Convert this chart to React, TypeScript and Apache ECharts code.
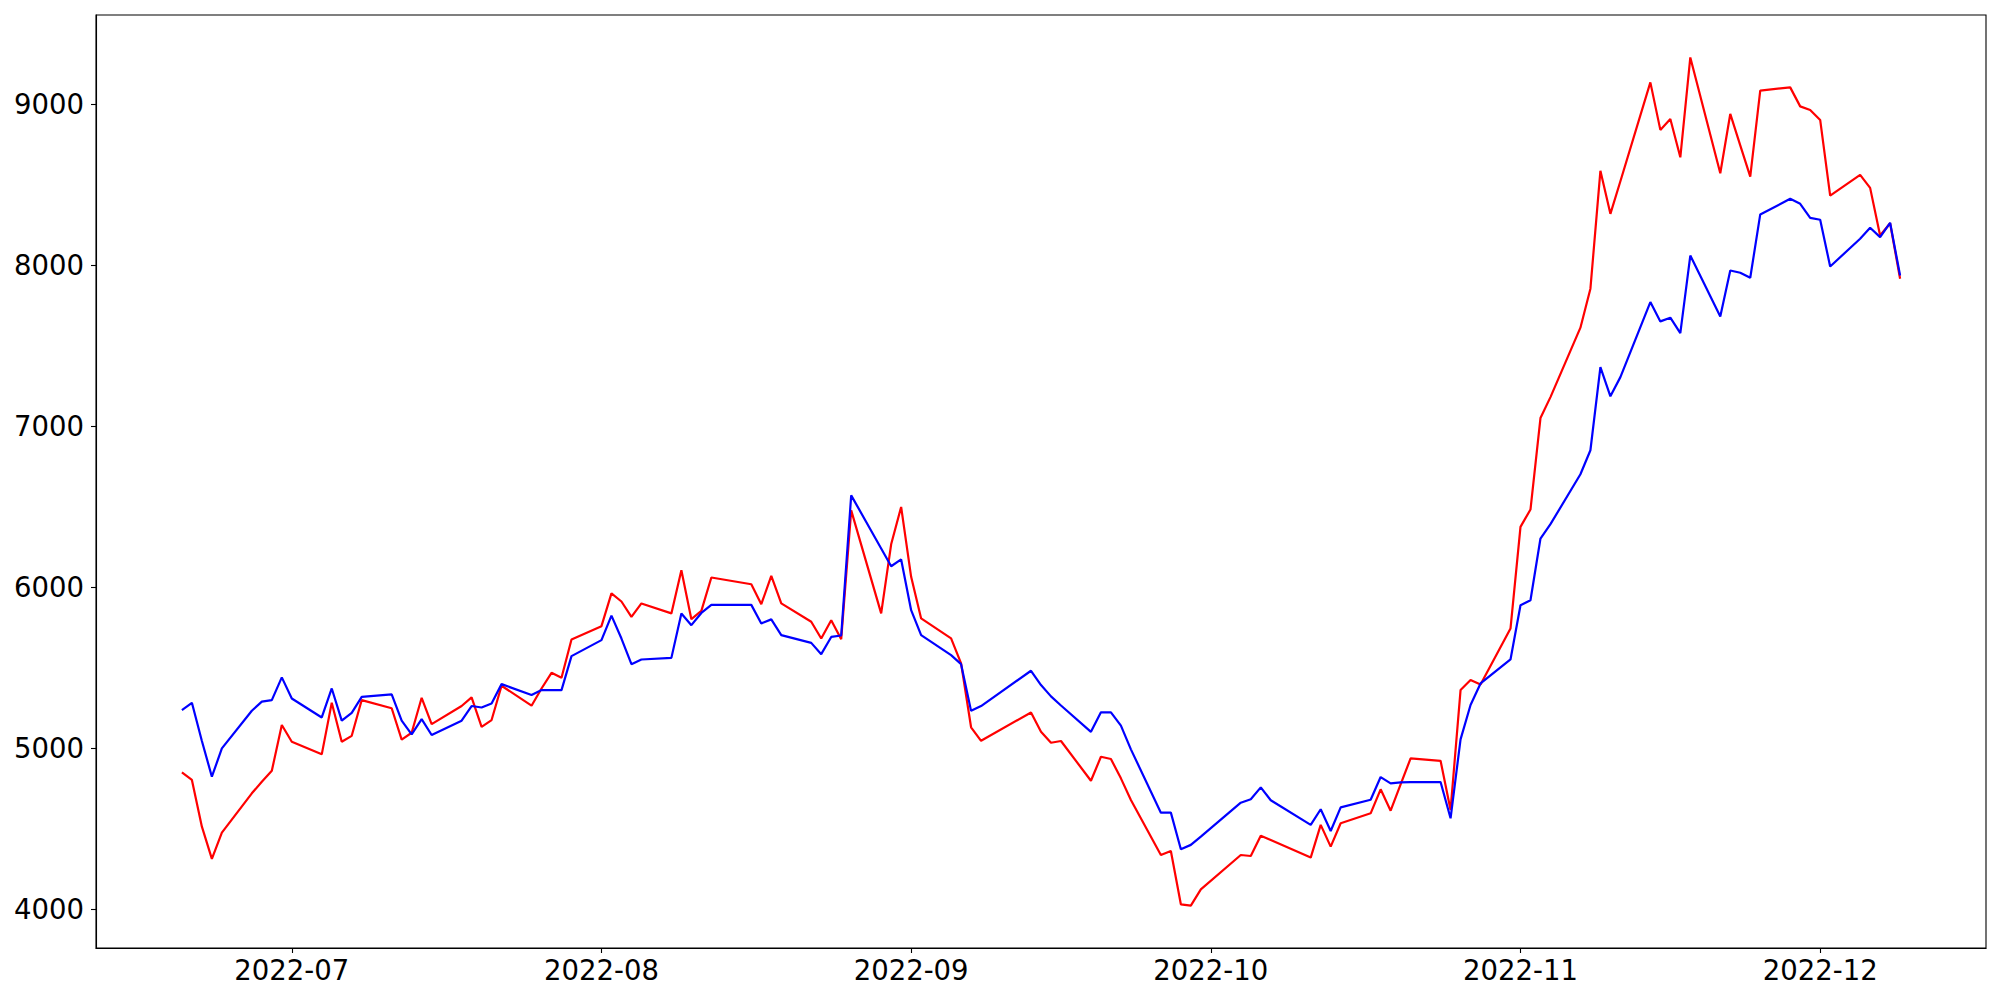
import React, { useEffect, useRef } from "react";
import * as echarts from "echarts";

const dates = [
  "2022-06-20", "2022-06-21", "2022-06-22", "2022-06-23", "2022-06-24",
  "2022-06-27", "2022-06-28", "2022-06-29", "2022-06-30", "2022-07-01",
  "2022-07-04", "2022-07-05", "2022-07-06", "2022-07-07", "2022-07-08",
  "2022-07-11", "2022-07-12", "2022-07-13", "2022-07-14", "2022-07-15",
  "2022-07-18", "2022-07-19", "2022-07-20", "2022-07-21", "2022-07-22",
  "2022-07-25", "2022-07-26", "2022-07-27", "2022-07-28", "2022-07-29",
  "2022-08-01", "2022-08-02", "2022-08-03", "2022-08-04", "2022-08-05",
  "2022-08-08", "2022-08-09", "2022-08-10", "2022-08-11", "2022-08-12",
  "2022-08-16", "2022-08-17", "2022-08-18", "2022-08-19",
  "2022-08-22", "2022-08-23", "2022-08-24", "2022-08-25", "2022-08-26",
  "2022-08-29", "2022-08-30", "2022-08-31", "2022-09-01", "2022-09-02",
  "2022-09-05", "2022-09-06", "2022-09-07", "2022-09-08",
  "2022-09-13", "2022-09-14", "2022-09-15", "2022-09-16",
  "2022-09-19", "2022-09-20", "2022-09-21", "2022-09-22", "2022-09-23",
  "2022-09-26", "2022-09-27", "2022-09-28", "2022-09-29", "2022-09-30",
  "2022-10-04", "2022-10-05", "2022-10-06", "2022-10-07",
  "2022-10-11", "2022-10-12", "2022-10-13", "2022-10-14",
  "2022-10-17", "2022-10-18", "2022-10-19", "2022-10-20", "2022-10-21",
  "2022-10-24", "2022-10-25", "2022-10-26", "2022-10-27", "2022-10-28",
  "2022-10-31", "2022-11-01", "2022-11-02", "2022-11-03", "2022-11-04",
  "2022-11-07", "2022-11-08", "2022-11-09", "2022-11-10", "2022-11-11",
  "2022-11-14", "2022-11-15", "2022-11-16", "2022-11-17", "2022-11-18",
  "2022-11-21", "2022-11-22", "2022-11-23", "2022-11-24", "2022-11-25",
  "2022-11-28", "2022-11-29", "2022-11-30", "2022-12-01", "2022-12-02",
  "2022-12-05", "2022-12-06", "2022-12-07", "2022-12-08", "2022-12-09",
];

const redValues = [
  4850, 4803, 4513, 4313, 4476,
  4720, 4792, 4860, 5144, 5040,
  4962, 5282, 5040, 5077, 5299,
  5248, 5053, 5096, 5313, 5150,
  5262, 5316, 5133, 5175, 5388,
  5264, 5371, 5468, 5437, 5675,
  5758, 5961, 5911, 5815, 5899,
  5837, 6105, 5801, 5853, 6060,
  6018, 5894, 6070, 5899,
  5785, 5681, 5795, 5677, 6477,
  5837, 6266, 6498, 6064, 5806,
  5682, 5527, 5130, 5046,
  5222, 5102, 5034, 5045,
  4798, 4947, 4933, 4813, 4679,
  4337, 4362, 4031, 4023, 4124,
  4337, 4331, 4457, 4430,
  4321, 4524, 4389, 4534,
  4596, 4745, 4612, 4776, 4937,
  4922, 4617, 5361, 5423, 5396,
  5743, 6374, 6482, 7050, 7180,
  7611, 7853, 8585, 8318, 8520,
  9134, 8839, 8907, 8669, 9289,
  8570, 8938, 8743, 8549, 9083,
  9103, 8985, 8963, 8901, 8431,
  8560, 8479, 8183, 8259, 7915,
];

const blueValues = [
  5237, 5282, 5045, 4823, 4999,
  5233, 5289, 5299, 5440, 5309,
  5191, 5371, 5171, 5220, 5319,
  5334, 5171, 5086, 5181, 5082,
  5171, 5262, 5253, 5278, 5398,
  5330, 5361, 5361, 5361, 5572,
  5671, 5823, 5681, 5522, 5551,
  5561, 5837, 5764, 5840, 5890,
  5890, 5775, 5800, 5702,
  5654, 5584, 5691, 5700, 6570,
  6240, 6130, 6172, 5857, 5702,
  5578, 5522, 5232, 5262,
  5481, 5392, 5322, 5265,
  5102, 5223, 5223, 5140, 4993,
  4600, 4600, 4373, 4400, 4451,
  4662, 4683, 4757, 4677,
  4524, 4621, 4486, 4633,
  4680, 4821, 4782, 4788, 4790,
  4790, 4565, 5055, 5268, 5402,
  5551, 5888, 5919, 6302, 6391,
  6701, 6850, 7366, 7185, 7304,
  7770, 7650, 7673, 7577, 8059,
  7681, 7966, 7952, 7921, 8314,
  8411, 8380, 8293, 8281, 7991,
  8163, 8231, 8173, 8262, 7935,
];

const yTicks = [4000, 5000, 6000, 7000, 8000, 9000];
const xTickMonths = ["2022-07", "2022-08", "2022-09", "2022-10", "2022-11", "2022-12"];

const toTs = (s: string) => {
  const [y, m, d] = s.split("-").map(Number);
  return Date.UTC(y, m - 1, d);
};

export default function App() {
  const ref = useRef<HTMLDivElement>(null);

  useEffect(() => {
    if (!ref.current) return;
    const chart = echarts.init(ref.current, undefined, { renderer: "svg" });

    const xs = dates.map(toTs);
    const xMinData = xs[0];
    const xMaxData = xs[xs.length - 1];
    const xPad = (xMaxData - xMinData) * 0.05;
    const allVals = redValues.concat(blueValues);
    const yMinData = Math.min(...allVals);
    const yMaxData = Math.max(...allVals);
    const yPad = (yMaxData - yMinData) * 0.05;
    const xTicks = xTickMonths.map((m) => toTs(m + "-01"));

    const fmtMonth = (v: number) => {
      const d = new Date(v);
      return `${d.getUTCFullYear()}-${String(d.getUTCMonth() + 1).padStart(2, "0")}`;
    };

    const font = {
      fontFamily: "DejaVu Sans",
      fontSize: 27.5,
      color: "#000",
    };

    chart.setOption({
      animation: false,
      grid: {
        left: 96,
        right: 14,
        top: 15,
        bottom: 52,
        show: true,
        borderColor: "#000",
        borderWidth: 1.1,
        backgroundColor: "transparent",
      },
      xAxis: {
        type: "value",
        min: xMinData - xPad,
        max: xMaxData + xPad,
        axisLine: { show: true, lineStyle: { color: "#000", width: 1.1 } },
        axisTick: {
          show: true,
          customValues: xTicks,
          length: 5,
          lineStyle: { color: "#000", width: 1.1 },
        },
        axisLabel: {
          ...font,
          customValues: xTicks,
          formatter: fmtMonth,
          margin: 8,
        },
        splitLine: { show: false },
      },
      yAxis: {
        type: "value",
        min: yMinData - yPad,
        max: yMaxData + yPad,
        axisLine: { show: true, lineStyle: { color: "#000", width: 1.1 } },
        axisTick: {
          show: true,
          customValues: yTicks,
          length: 5,
          lineStyle: { color: "#000", width: 1.1 },
        },
        axisLabel: {
          ...font,
          customValues: yTicks,
          formatter: (v: number) => String(v),
          margin: 12,
        },
        splitLine: { show: false },
      },
      series: [
        {
          type: "line",
          name: "red",
          data: xs.map((x, i) => [x, redValues[i]]),
          symbol: "none",
          lineStyle: { color: "#ff0000", width: 2.2 },
          itemStyle: { color: "#ff0000" },
        },
        {
          type: "line",
          name: "blue",
          data: xs.map((x, i) => [x, blueValues[i]]),
          symbol: "none",
          lineStyle: { color: "#0000ff", width: 2.2 },
          itemStyle: { color: "#0000ff" },
        },
      ],
    });

    return () => {
      chart.dispose();
    };
  }, []);

  return (
    <div
      ref={ref}
      style={{ position: "fixed", left: 0, top: 0, width: 2000, height: 1000, background: "#fff" }}
    />
  );
}
